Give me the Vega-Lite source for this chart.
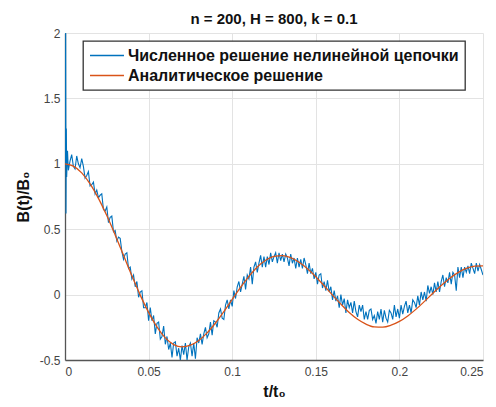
{
  "$schema": "https://vega.github.io/schema/vega-lite/v6.json",
  "width": 418,
  "height": 327,
  "autosize": {"type": "none"},
  "padding": {"left": 65, "top": 33, "right": 13, "bottom": 47},
  "background": "white",
  "title": {
    "text": "n = 200, H = 800, k = 0.1",
    "font": "Liberation Sans",
    "fontSize": 15,
    "fontWeight": "bold",
    "color": "#111111",
    "anchor": "middle",
    "offset": 0
  },
  "datasets": {
    "num": [
      {"t":0,"b":1.0},{"t":0.0004,"b":2.0},{"t":0.0006,"b":0.62},{"t":0.0008,"b":1.27},{"t":0.001,"b":0.9},{"t":0.0015,"b":1.1},
      {"t":0.002,"b":0.95},{"t":0.003,"b":1.02},{"t":0.004,"b":1.07},{"t":0.005,"b":0.98},
      {"t":0.006,"b":0.96},{"t":0.007,"b":1.06},{"t":0.008,"b":1.00},{"t":0.009,"b":0.97},{"t":0.010,"b":1.04},
      {"t":0.011,"b":0.98},{"t":0.012,"b":0.89},{"t":0.013,"b":0.91},{"t":0.014,"b":0.94},{"t":0.015,"b":0.83},
      {"t":0.016,"b":0.84},{"t":0.017,"b":0.86},{"t":0.018,"b":0.77},{"t":0.019,"b":0.80},{"t":0.020,"b":0.74},
      {"t":0.021,"b":0.76},{"t":0.022,"b":0.77},{"t":0.023,"b":0.65},{"t":0.024,"b":0.64},{"t":0.025,"b":0.67},
      {"t":0.026,"b":0.55},{"t":0.027,"b":0.59},{"t":0.028,"b":0.60},{"t":0.029,"b":0.48},{"t":0.030,"b":0.49},
      {"t":0.031,"b":0.41},{"t":0.032,"b":0.44},{"t":0.033,"b":0.43},{"t":0.034,"b":0.33},{"t":0.035,"b":0.27},
      {"t":0.036,"b":0.31},{"t":0.037,"b":0.32},{"t":0.038,"b":0.20},{"t":0.039,"b":0.21},{"t":0.040,"b":0.12},
      {"t":0.041,"b":0.15},{"t":0.042,"b":0.06},{"t":0.043,"b":0.10},{"t":0.044,"b":-0.02},{"t":0.045,"b":0.02},
      {"t":0.046,"b":0.03},{"t":0.047,"b":-0.10},{"t":0.048,"b":-0.10},{"t":0.049,"b":-0.06},{"t":0.050,"b":-0.20},
      {"t":0.051,"b":-0.10},{"t":0.052,"b":-0.20},{"t":0.053,"b":-0.16},{"t":0.054,"b":-0.30},{"t":0.055,"b":-0.22},
      {"t":0.056,"b":-0.21},{"t":0.057,"b":-0.34},{"t":0.058,"b":-0.32},{"t":0.059,"b":-0.24},{"t":0.060,"b":-0.38},
      {"t":0.061,"b":-0.32},{"t":0.062,"b":-0.42},{"t":0.063,"b":-0.37},{"t":0.064,"b":-0.48},{"t":0.065,"b":-0.37},
      {"t":0.066,"b":-0.36},{"t":0.067,"b":-0.47},{"t":0.068,"b":-0.41},{"t":0.069,"b":-0.50},{"t":0.070,"b":-0.39},
      {"t":0.071,"b":-0.46},{"t":0.072,"b":-0.37},{"t":0.073,"b":-0.50},{"t":0.074,"b":-0.40},{"t":0.075,"b":-0.37},
      {"t":0.076,"b":-0.47},{"t":0.077,"b":-0.37},{"t":0.078,"b":-0.49},{"t":0.079,"b":-0.33},{"t":0.080,"b":-0.37},
      {"t":0.081,"b":-0.30},{"t":0.082,"b":-0.38},{"t":0.083,"b":-0.30},{"t":0.084,"b":-0.25},{"t":0.085,"b":-0.33},
      {"t":0.086,"b":-0.30},{"t":0.087,"b":-0.21},{"t":0.088,"b":-0.31},{"t":0.089,"b":-0.20},{"t":0.090,"b":-0.21},
      {"t":0.091,"b":-0.25},{"t":0.092,"b":-0.14},{"t":0.093,"b":-0.11},{"t":0.094,"b":-0.18},{"t":0.095,"b":-0.19},
      {"t":0.096,"b":-0.08},{"t":0.097,"b":-0.04},{"t":0.098,"b":-0.11},{"t":0.099,"b":-0.04},{"t":0.100,"b":-0.09},
      {"t":0.101,"b":0.03},{"t":0.102,"b":-0.03},{"t":0.103,"b":0.06},{"t":0.104,"b":0.10},{"t":0.105,"b":0.02},
      {"t":0.106,"b":0.08},{"t":0.107,"b":0.14},{"t":0.108,"b":0.04},{"t":0.109,"b":0.15},{"t":0.110,"b":0.12},
      {"t":0.111,"b":0.21},{"t":0.112,"b":0.08},{"t":0.113,"b":0.21},{"t":0.114,"b":0.25},{"t":0.115,"b":0.17},
      {"t":0.116,"b":0.24},{"t":0.117,"b":0.30},{"t":0.118,"b":0.21},{"t":0.119,"b":0.29},{"t":0.120,"b":0.21},
      {"t":0.121,"b":0.29},{"t":0.122,"b":0.23},{"t":0.123,"b":0.32},{"t":0.124,"b":0.25},{"t":0.125,"b":0.29},
      {"t":0.126,"b":0.32},{"t":0.127,"b":0.24},{"t":0.128,"b":0.32},{"t":0.129,"b":0.26},{"t":0.130,"b":0.31},
      {"t":0.131,"b":0.25},{"t":0.132,"b":0.31},{"t":0.133,"b":0.28},{"t":0.134,"b":0.22},{"t":0.135,"b":0.31},
      {"t":0.136,"b":0.24},{"t":0.137,"b":0.28},{"t":0.138,"b":0.20},{"t":0.139,"b":0.28},{"t":0.140,"b":0.21},
      {"t":0.141,"b":0.27},{"t":0.142,"b":0.20},{"t":0.143,"b":0.28},{"t":0.144,"b":0.23},{"t":0.145,"b":0.16},
      {"t":0.146,"b":0.24},{"t":0.147,"b":0.16},{"t":0.148,"b":0.20},{"t":0.149,"b":0.12},{"t":0.150,"b":0.17},
      {"t":0.151,"b":0.08},{"t":0.152,"b":0.15},{"t":0.153,"b":0.16},{"t":0.154,"b":0.05},{"t":0.155,"b":0.10},
      {"t":0.156,"b":0.03},{"t":0.157,"b":0.11},{"t":0.158,"b":0.02},{"t":0.159,"b":0.06},{"t":0.160,"b":-0.04},
      {"t":0.161,"b":0.03},{"t":0.162,"b":-0.05},{"t":0.163,"b":-0.01},{"t":0.164,"b":-0.10},{"t":0.165,"b":0.00},
      {"t":0.166,"b":-0.08},{"t":0.167,"b":-0.03},{"t":0.168,"b":-0.14},{"t":0.169,"b":-0.04},{"t":0.170,"b":-0.10},
      {"t":0.171,"b":-0.06},{"t":0.172,"b":-0.14},{"t":0.173,"b":-0.05},{"t":0.174,"b":-0.13},{"t":0.175,"b":-0.17},
      {"t":0.176,"b":-0.08},{"t":0.177,"b":-0.13},{"t":0.178,"b":-0.08},{"t":0.179,"b":-0.19},{"t":0.180,"b":-0.13},
      {"t":0.181,"b":-0.19},{"t":0.182,"b":-0.12},{"t":0.183,"b":-0.11},{"t":0.184,"b":-0.19},{"t":0.185,"b":-0.16},
      {"t":0.186,"b":-0.22},{"t":0.187,"b":-0.13},{"t":0.188,"b":-0.19},{"t":0.189,"b":-0.11},{"t":0.190,"b":-0.21},
      {"t":0.191,"b":-0.12},{"t":0.192,"b":-0.18},{"t":0.193,"b":-0.21},{"t":0.194,"b":-0.12},{"t":0.195,"b":-0.14},
      {"t":0.196,"b":-0.19},{"t":0.197,"b":-0.08},{"t":0.198,"b":-0.17},{"t":0.199,"b":-0.11},{"t":0.200,"b":-0.18},
      {"t":0.201,"b":-0.08},{"t":0.202,"b":-0.15},{"t":0.203,"b":-0.09},{"t":0.204,"b":-0.05},{"t":0.205,"b":-0.14},
      {"t":0.206,"b":-0.08},{"t":0.207,"b":-0.14},{"t":0.208,"b":-0.04},{"t":0.209,"b":-0.06},{"t":0.210,"b":-0.10},
      {"t":0.211,"b":-0.01},{"t":0.212,"b":-0.08},{"t":0.213,"b":0.02},{"t":0.214,"b":-0.04},{"t":0.215,"b":0.02},
      {"t":0.216,"b":-0.05},{"t":0.217,"b":0.07},{"t":0.218,"b":0.01},{"t":0.219,"b":0.06},{"t":0.220,"b":0.00},
      {"t":0.221,"b":0.09},{"t":0.222,"b":0.02},{"t":0.223,"b":0.10},{"t":0.224,"b":0.02},{"t":0.225,"b":0.10},
      {"t":0.226,"b":0.15},{"t":0.227,"b":0.06},{"t":0.228,"b":0.13},{"t":0.229,"b":0.09},{"t":0.230,"b":0.17},
      {"t":0.231,"b":0.08},{"t":0.232,"b":0.17},{"t":0.233,"b":0.15},{"t":0.234,"b":0.03},{"t":0.235,"b":0.21},
      {"t":0.236,"b":0.13},{"t":0.237,"b":0.21},{"t":0.238,"b":0.13},{"t":0.239,"b":0.21},{"t":0.240,"b":0.17},
      {"t":0.241,"b":0.22},{"t":0.242,"b":0.16},{"t":0.243,"b":0.24},{"t":0.244,"b":0.20},{"t":0.245,"b":0.16},
      {"t":0.246,"b":0.24},{"t":0.247,"b":0.18},{"t":0.248,"b":0.23},{"t":0.249,"b":0.19},{"t":0.250,"b":0.15}
    ],
    "ana": [
      {"t":0,"b":1.0},{"t":0.005,"b":0.982},{"t":0.010,"b":0.931},{"t":0.015,"b":0.847},{"t":0.020,"b":0.736},
      {"t":0.025,"b":0.604},{"t":0.030,"b":0.456},{"t":0.035,"b":0.300},{"t":0.040,"b":0.144},{"t":0.045,"b":-0.004},
      {"t":0.050,"b":-0.136},{"t":0.055,"b":-0.247},{"t":0.060,"b":-0.331},{"t":0.065,"b":-0.382},{"t":0.070,"b":-0.400},
      {"t":0.075,"b":-0.387},{"t":0.080,"b":-0.351},{"t":0.085,"b":-0.293},{"t":0.090,"b":-0.217},{"t":0.095,"b":-0.130},
      {"t":0.100,"b":-0.037},{"t":0.105,"b":0.055},{"t":0.110,"b":0.139},{"t":0.115,"b":0.211},{"t":0.120,"b":0.263},
      {"t":0.125,"b":0.293},{"t":0.130,"b":0.298},{"t":0.135,"b":0.282},{"t":0.140,"b":0.247},{"t":0.145,"b":0.198},
      {"t":0.150,"b":0.137},{"t":0.155,"b":0.068},{"t":0.160,"b":-0.004},{"t":0.165,"b":-0.073},{"t":0.170,"b":-0.137},
      {"t":0.175,"b":-0.189},{"t":0.180,"b":-0.226},{"t":0.185,"b":-0.247},{"t":0.190,"b":-0.249},{"t":0.195,"b":-0.234},
      {"t":0.200,"b":-0.205},{"t":0.205,"b":-0.163},{"t":0.210,"b":-0.111},{"t":0.215,"b":-0.052},{"t":0.220,"b":0.010},
      {"t":0.225,"b":0.069},{"t":0.230,"b":0.123},{"t":0.235,"b":0.168},{"t":0.240,"b":0.200},{"t":0.245,"b":0.217},
      {"t":0.250,"b":0.219}
    ]
  },
  "encoding": {
    "x": {
      "field": "t", "type": "quantitative",
      "scale": {"domain": [0, 0.25], "nice": false, "zero": false},
      "axis": {"values": [0, 0.05, 0.1, 0.15, 0.2, 0.25], "format": "~g", "title": "t/t₀", "titlePadding": 6, "labelPadding": 6}
    },
    "y": {
      "field": "b", "type": "quantitative",
      "scale": {"domain": [-0.5, 2], "nice": false, "zero": false},
      "axis": {"values": [-0.5, 0, 0.5, 1, 1.5, 2], "labelExpr": "replace(format(datum.value, '~g'), '−', '-')", "title": "B(t)/B₀", "titlePadding": 8, "labelPadding": 5}
    }
  },
  "layer": [
    {
      "data": {"name": "num"},
      "mark": {"type": "line", "strokeWidth": 1.1, "clip": true},
      "encoding": {"color": {"datum": "Численное решение нелинейной цепочки"}}
    },
    {
      "data": {"name": "ana"},
      "mark": {"type": "line", "strokeWidth": 1.3, "clip": true, "interpolate": "monotone"},
      "encoding": {"color": {"datum": "Аналитическое решение"}}
    }
  ],
  "resolve": {"scale": {"color": "shared"}},
  "config": {
    "view": {"stroke": null},
    "range": {"category": ["#0072BD", "#D95319"]},
    "axis": {
      "grid": true,
      "gridColor": "#e3e3e3",
      "gridWidth": 1,
      "domainColor": "#555555",
      "domainWidth": 1.3,
      "ticks": false,
      "labelFont": "Liberation Sans",
      "labelFontSize": 12,
      "labelColor": "#444444",
      "titleFont": "Liberation Sans",
      "titleFontSize": 16,
      "titleFontWeight": "bold",
      "titleColor": "#111111"
    },
    "legend": {
      "orient": "none",
      "legendX": 18,
      "legendY": 8,
      "title": null,
      "symbolType": "M-1,0H3.53",
      "symbolSize": 225,
      "symbolStrokeWidth": 1.5,
      "labelFont": "Liberation Sans",
      "labelFontSize": 16,
      "labelFontWeight": "bold",
      "labelColor": "#111111",
      "labelOffset": 22,
      "labelLimit": 0,
      "rowPadding": 3,
      "padding": 6,
      "fillColor": "white",
      "strokeColor": "#333333",
      "strokeWidth": 1.3
    }
  }
}
